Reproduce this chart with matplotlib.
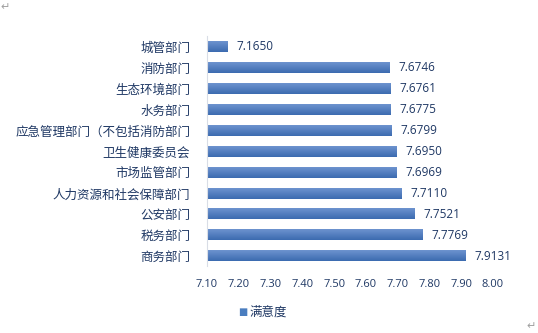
import matplotlib.pyplot as plt
import numpy as np

plt.rcParams['font.family'] = ['Noto Sans CJK SC', 'DejaVu Sans']

# data, top to bottom
depts = ['城管部门', '消防部门', '生态环境部门', '水务部门', '应急管理部门（不包括消防部门',
         '卫生健康委员会', '市场监管部门', '人力资源和社会保障部门', '公安部门', '税务部门', '商务部门']
scores = [7.1650, 7.6746, 7.6761, 7.6775, 7.6799, 7.6950, 7.6969, 7.7110, 7.7521, 7.7769, 7.9131]
xticks = [7.10, 7.20, 7.30, 7.40, 7.50, 7.60, 7.70, 7.80, 7.90, 8.00]

text_col = '#1f3864'
xmin = 7.10

fig = plt.figure(figsize=(5.38, 3.33), dpi=100)
ax = fig.add_axes([0.3848, 0.1997, 0.5316, 0.6907])

y = np.arange(len(depts))
bars = ax.barh(y, [s - xmin for s in scores], left=xmin, height=0.5, color='#4a7dbf')

# vertical gradient on each bar, light on top
grad = np.linspace(0, 1, 64).reshape(-1, 1)
from matplotlib.colors import LinearSegmentedColormap
cmap = LinearSegmentedColormap.from_list('b', ['#6d93cf', '#3c6bb0'])
for b in bars:
    x0, y0 = b.get_x(), b.get_y()
    w, h = b.get_width(), b.get_height()
    im = ax.imshow(grad, extent=[x0, x0 + w, y0 + h, y0], aspect='auto', cmap=cmap,
                   origin='upper', zorder=2)
    b.set_visible(False)

for yi, s in zip(y, scores):
    ax.text(s + 0.028, yi, f'{s:.4f}', va='center', ha='left', fontsize=8.5,
            color=text_col, family=['Open Sans', 'DejaVu Sans'])

ax.set_xlim(7.10, 8.00)
ax.set_ylim(len(depts) - 0.5, -0.5)
ax.set_yticks(y)
ax.set_yticklabels(depts, fontsize=9, color=text_col)
ax.set_xticks(xticks)
ax.set_xticklabels([f'{t:.2f}' for t in xticks], fontsize=8, color=text_col,
                   family=['Open Sans', 'DejaVu Sans'])
ax.tick_params(axis='both', length=0)
ax.tick_params(axis='y', pad=12)
ax.tick_params(axis='x', pad=9)
for side in ['top', 'right', 'bottom']:
    ax.spines[side].set_visible(False)
ax.spines['left'].set_color('#d9dde6')

# legend
fig.text(0.4424, 0.063, '■', fontsize=7, color='#4a7dbf', va='center', ha='left',
         family=['DejaVu Sans'])
fig.text(0.4628, 0.063, '满意度', fontsize=9, color=text_col, va='center', ha='left')

# word paragraph marks
fig.text(0.0, 0.995, '↵', fontsize=8, color='#a0a0a0', va='top', ha='left',
         family=['DejaVu Sans'])
fig.text(0.978, 0.005, '↵', fontsize=8, color='#a0a0a0', va='bottom', ha='left',
         family=['DejaVu Sans'])

fig.savefig('out.png', dpi=100)
